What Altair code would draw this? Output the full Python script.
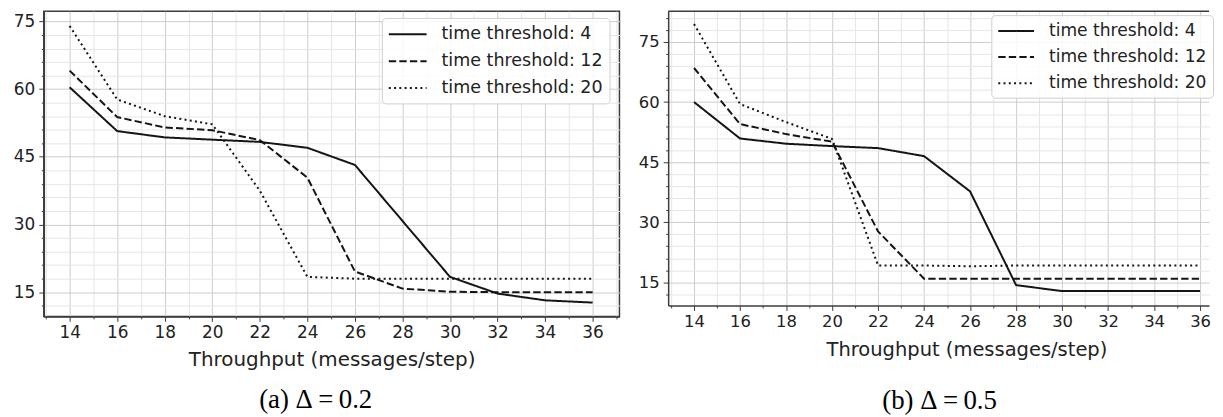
import altair as alt
import pandas as pd

# ---------------- data ----------------
throughput = [14, 16, 18, 20, 22, 24, 26, 28, 30, 32, 34, 36]
series_names = ["time threshold: 4", "time threshold: 12", "time threshold: 20"]

# panel (a)  delta = 0.2
a_t4 = [60.4, 50.7, 49.3, 48.8, 48.3, 47.0, 43.2, 30.8, 18.4, 14.7, 13.2, 12.7]
a_t12 = [64.1, 53.8, 51.5, 50.9, 48.7, 40.4, 19.6, 15.8, 15.1, 15.0, 15.0, 15.0]
a_t20 = [74.0, 57.7, 54.0, 52.2, 37.5, 18.4, 18.0, 18.0, 18.0, 18.0, 18.0, 18.0]

# panel (b)  delta = 0.5
b_t4 = [60.0, 50.9, 49.6, 49.0, 48.5, 46.5, 37.7, 14.3, 12.8, 12.8, 12.8, 12.8]
b_t12 = [68.5, 54.5, 52.0, 50.1, 27.7, 15.9, 15.9, 15.9, 15.9, 15.9, 15.9, 15.9]
b_t20 = [79.5, 59.5, 55.0, 50.8, 19.2, 19.2, 19.0, 19.2, 19.2, 19.2, 19.2, 19.2]

x_label = "Throughput (messages/step)"
captions = ["(a) \u0394\u2009=\u20090.2", "(b) \u0394\u2009=\u20090.5"]

x_ticks_a = list(range(13, 38))
y_ticks_a = list(range(12, 78, 3))
x_ticks_b = list(range(13, 37))
y_ticks_b = list(range(12, 82, 3))

dash_range = [[1, 0], [7.4, 3.2], [2, 3.3]]

FRAME = "#3c3c3c"
MAJOR = "#cdcdcd"
MINOR = "#e6e6e6"
TEXT = "#222222"
LINE = "#151515"


def make_df(vals_list):
    rows = []
    for name, vals in zip(series_names, vals_list):
        for x, y in zip(throughput, vals):
            rows.append({"x": x, "y": y, "series": name})
    return pd.DataFrame(rows)


def cond(test, a, b):
    return {"condition": {"test": test, "value": a}, "value": b}


def panel(df, xdom, ydom, w, h, xt, yt, fs_tick, fs_title, title_pad, title_x, fs_leg, sym,
          row_pad, lx, ly, caption, dx, cap_off, framed):
    ax_kw = dict(
        values=xt,
        title=x_label,
        titleFont="DejaVu Sans",
        titleFontSize=fs_title,
        titleFontWeight="normal",
        titleColor=TEXT,
        titlePadding=title_pad,
        labelExpr="datum.value % 2 === 0 ? datum.label : ''",
        labelOverlap=False,
        labelFlush=False,
        labelFont="DejaVu Sans",
        labelFontSize=fs_tick,
        labelColor=TEXT,
        labelPadding=3,
        tickSize=cond("datum.value % 2 === 0", 5, 2.5),
        tickColor=FRAME,
        tickWidth=1,
        gridColor=cond("datum.value % 2 === 0", MAJOR, MINOR),
        gridWidth=1,
        domainColor=FRAME,
        domainWidth=1.5,
    )
    if title_x is not None:
        ax_kw["titleX"] = title_x
        ax_kw["titleAlign"] = "center"
    x_axis = alt.Axis(**ax_kw)
    y_axis = alt.Axis(
        values=yt,
        title=None,
        labelExpr="datum.value % 15 === 0 ? datum.label : ''",
        labelOverlap=False,
        labelFlush=False,
        labelFont="DejaVu Sans",
        labelFontSize=fs_tick,
        labelColor=TEXT,
        labelPadding=4,
        tickSize=cond("datum.value % 15 === 0", 5, 2.5),
        tickColor=FRAME,
        tickWidth=1,
        gridColor=cond("datum.value % 15 === 0", MAJOR, MINOR),
        gridWidth=1,
        domainColor=FRAME,
        domainWidth=1.5,
        minExtent=35,
        maxExtent=35,
    )
    half = sym / 2.0
    legend = alt.Legend(
        title=None,
        orient="none",
        legendX=lx,
        legendY=ly,
        symbolType="M-1,0H3",
        symbolSize=half * half,
        symbolStrokeWidth=2,
        symbolStrokeColor=LINE,
        symbolFillColor="transparent",
        labelFont="DejaVu Sans",
        labelFontSize=fs_leg,
        labelColor=TEXT,
        labelOffset=sym - half + 14,
        labelLimit=400,
        rowPadding=row_pad,
        padding=6,
        fillColor="rgba(255,255,255,0.85)",
        strokeColor="#d0d0d0",
        cornerRadius=4,
    )
    lines = alt.Chart(df).mark_line(color=LINE, strokeWidth=2, clip=True).encode(
        x=alt.X("x:Q", scale=alt.Scale(domain=xdom, nice=False, zero=False), axis=x_axis),
        y=alt.Y("y:Q", scale=alt.Scale(domain=ydom, nice=False, zero=False), axis=y_axis),
        strokeDash=alt.StrokeDash(
            "series:N",
            scale=alt.Scale(domain=series_names, range=dash_range),
            sort=series_names,
            legend=legend,
        ),
    )
    layers = [lines]
    if not framed:
        top = alt.Chart(pd.DataFrame({"k": [0]})).mark_rule(
            color=FRAME, strokeWidth=1.5
        ).encode(y=alt.value(0))
        layers.append(top)
    title = alt.TitleParams(
        text=caption,
        orient="bottom",
        anchor="middle",
        font="Liberation Serif",
        fontSize=27,
        fontWeight="normal",
        color="#000000",
        offset=cap_off,
        dx=dx,
    )
    props = dict(width=w, height=h, title=title)
    if not framed:
        props["view"] = alt.ViewBackground(stroke="transparent")
    return alt.layer(*layers).properties(**props)


left = panel(make_df([a_t4, a_t12, a_t20]), [12.9125, 37.129], [9.64, 77.27], 579, 307,
             x_ticks_a, y_ticks_a, 17, 20, 9, None, 17.6, 38, 7, 340, 6.8,
             captions[0], -16, 18, True)
right = panel(make_df([b_t4, b_t12, b_t20]), [12.876, 36.389], [9.22, 82.69], 544, 296,
              x_ticks_b, y_ticks_b, 16.5, 19.6, 11, 300, 17.2, 36, 7.2, 325, 4,
              captions[1], 1, 29, False)

chart = alt.hconcat(left, right, spacing=12).resolve_scale(
    strokeDash="independent"
).properties(
    padding={"left": 0, "top": 0, "right": 0, "bottom": 0}
).configure_view(
    stroke=FRAME, strokeWidth=1.5
)

chart.save("out.html", embed_options={"renderer": "svg", "actions": False})
